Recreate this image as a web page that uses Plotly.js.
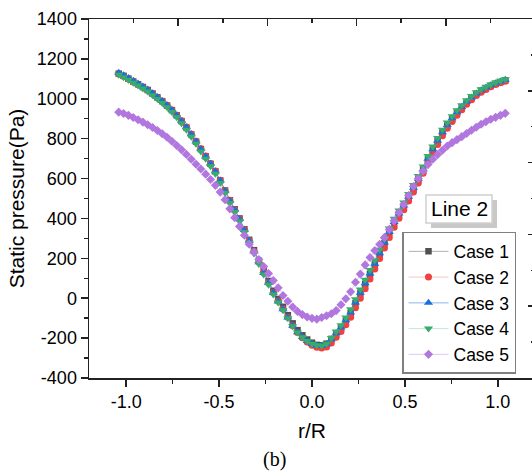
<!DOCTYPE html>
<html><head><meta charset="utf-8">
<script src="https://cdn.plot.ly/plotly-3.0.1.min.js"></script>
<style>html,body{margin:0;padding:0;overflow:hidden;background:#fff;width:532px;height:475px}#chart{width:540px;height:475px}</style>
</head><body><div id="chart"></div>
<script>
const rR = [-1.04,-1.014,-0.988,-0.962,-0.936,-0.91,-0.884,-0.858,-0.832,-0.806,-0.78,-0.754,-0.728,-0.702,-0.676,-0.65,-0.624,-0.598,-0.572,-0.546,-0.52,-0.494,-0.468,-0.442,-0.416,-0.39,-0.364,-0.338,-0.312,-0.286,-0.26,-0.234,-0.208,-0.182,-0.156,-0.13,-0.104,-0.078,-0.052,-0.026,0,0.026,0.052,0.078,0.104,0.13,0.156,0.182,0.208,0.234,0.26,0.286,0.312,0.338,0.364,0.39,0.416,0.442,0.468,0.494,0.52,0.546,0.572,0.598,0.624,0.65,0.676,0.702,0.728,0.754,0.78,0.806,0.832,0.858,0.884,0.91,0.936,0.962,0.988,1.014,1.04];

const case1 = [1126,1115,1101,1087,1073,1059,1044,1026,1007,988,
966,943,917,888,856,821,785,748,711,674,
636,591,540,491,446,400,346,293,241,188,
136,86,37,-4,-43,-85,-126,-160,-186,-207,
-223,
-234,-236,-228,-204,-176,-150,-114,-74,-25,24,
72,121,170,223,276,329,379,422,462,506,
551,596,644,696,744,787,829,866,899,929,
956,982,1004,1024,1040,1053,1065,1075,1084,1092];

const case2 = [1124,1113,1100,1086,1072,1058,1043,1026,1007,988,
967,944,918,890,858,823,787,750,713,676,
638,592,540,491,445,399,344,290,236,182,
129,78,28,-14,-54,-96,-138,-172,-198,-220,
-236,
-246,-250,-245,-224,-196,-167,-133,-95,-48,0,
48,97,146,199,252,305,356,401,443,487,
532,578,626,678,727,771,814,852,886,917,
945,972,995,1016,1033,1047,1060,1071,1080,1088];

const case3 = [1130,1118,1104,1090,1076,1061,1046,1028,1009,989,
967,944,918,889,857,822,786,748,711,674,
636,590,538,489,443,397,342,288,234,180,
127,76,26,-16,-55,-97,-138,-170,-195,-215,
-229,
-238,-239,-231,-206,-176,-147,-111,-71,-22,27,
75,124,173,226,279,332,382,425,465,509,
554,599,647,699,747,790,832,869,902,932,
959,985,1007,1027,1043,1056,1068,1078,1087,1095];

const case4 = [1120,1108,1094,1080,1066,1051,1036,1018,999,979,
957,934,907,877,845,810,774,736,699,662,
624,578,527,478,432,386,332,278,224,171,
119,68,19,-22,-60,-101,-141,-172,-196,-215,
-228,
-236,-238,-228,-200,-167,-135,-97,-55,-5,44,
92,141,190,243,296,349,398,440,480,523,
568,613,661,713,761,803,845,881,913,942,
968,993,1014,1033,1048,1060,1071,1081,1090,1098];

const case5 = [933,926,917,906,895,883,870,856,841,825,
807,787,766,744,721,697,672,648,622,595,
566,532,494,448,404,360,316,271,231,194,
159,124,89,52,14,-15,-44,-66,-82,-94,
-101,
-105,-97,-88,-78,-62,-33,-3,32,80,121,
167,204,239,270,305,345,388,430,470,515,
560,600,638,670,697,720,742,763,780,795,
810,826,842,857,872,885,897,907,917,927];

const seriesNames = ['Case 1','Case 2','Case 3','Case 4','Case 5'];
const seriesValues = [case1, case2, case3, case4, case5];
const xTickVals = [-1, -0.5, 0, 0.5, 1];
const xTickText = ['-1.0', '-0.5', '0.0', '0.5', '1.0'];
const yTickVals = [-400, -200, 0, 200, 400, 600, 800, 1000, 1200, 1400];
const yTickText = ['-400', '-200', '0', '200', '400', '600', '800', '1000', '1200', '1400'];
const legendTitle = 'Line 2';
const panelLabel = '(b)';

const colors = ['#515151','#F14040','#1A6FDF','#37AD6B','#B177DE'];
const lineColors = ['rgba(81,81,81,0.45)','rgba(241,64,64,0.3)','rgba(26,111,223,0.5)','rgba(55,173,107,0.3)','rgba(177,119,222,0.4)'];
const symbols = ['square','circle','triangle-up','triangle-down','diamond'];
const sizes = [6.5,7,8,8,7];

const traces = seriesValues.map((v, i) => ({
  type: 'scatter', mode: 'lines+markers', name: seriesNames[i],
  x: rR, y: v,
  line: {color: lineColors[i], width: 1},
  marker: {symbol: symbols[i], size: sizes[i], color: colors[i], line: {width: 0}}
}));
traces.push({type:'scatter', x:[], y:[], xaxis:'x2', yaxis:'y2', showlegend:false, hoverinfo:'skip'});

const axCol = '#222';
const layout = {
  width: 540, height: 475,
  margin: {l: 89, r: 5, t: 19, b: 97},
  paper_bgcolor: '#fff', plot_bgcolor: '#fff',
  font: {family: 'Liberation Sans, Arial, sans-serif', size: 18, color: '#000'},
  showlegend: true,
  xaxis: {
    range: [-1.2, 1.2], tickmode: 'array', tickvals: xTickVals, ticktext: xTickText,
    ticks: 'outside', ticklen: 7, tickwidth: 1.5, tickcolor: axCol,
    showline: true, linecolor: axCol, linewidth: 1.5, showgrid: false, zeroline: false,
    minor: {dtick: 0.25, tick0: -1, ticks: 'outside', ticklen: 4, tickwidth: 1.5, tickcolor: axCol, showgrid: false},
    tickfont: {size: 18},
    title: {text: 'r/R', font: {size: 21}, standoff: 12}
  },
  yaxis: {
    range: [-400, 1400], tickmode: 'array', tickvals: yTickVals, ticktext: yTickText,
    ticks: 'outside', ticklen: 7, tickwidth: 1.5, tickcolor: axCol,
    showline: true, linecolor: axCol, linewidth: 1.5, showgrid: false, zeroline: false,
    minor: {dtick: 100, tick0: 0, ticks: 'outside', ticklen: 4, tickwidth: 1.5, tickcolor: axCol, showgrid: false},
    tickfont: {size: 18},
    title: {text: 'Static pressure(Pa)', font: {size: 21}, standoff: 6}
  },
  xaxis2: {
    overlaying: 'x', side: 'top', anchor: 'y', range: [0, 5], tick0: 0, dtick: 1,
    ticks: 'inside', ticklen: 7, tickwidth: 1.5, tickcolor: axCol, showticklabels: false,
    showline: true, linecolor: axCol, linewidth: 1.5, showgrid: false, zeroline: false,
    minor: {dtick: 0.5, ticks: 'inside', ticklen: 4, tickwidth: 1.5, tickcolor: axCol, showgrid: false}
  },
  yaxis2: {
    overlaying: 'y', side: 'right', anchor: 'x', range: [0, 5], tick0: 0, dtick: 1,
    ticks: 'inside', ticklen: 7, tickwidth: 1.5, tickcolor: axCol, showticklabels: false,
    showline: true, linecolor: axCol, linewidth: 1.5, showgrid: false, zeroline: false,
    minor: {dtick: 0.5, ticks: 'inside', ticklen: 4, tickwidth: 1.5, tickcolor: axCol, showgrid: false}
  },
  legend: {
    x: 0.7018, y: 0.4067, xanchor: 'left', yanchor: 'top',
    bgcolor: '#fff', bordercolor: '#808080', borderwidth: 1.5,
    font: {size: 17.5}, itemwidth: 40, tracegroupgap: 0
  },
  shapes: [
    {type: 'rect', xref: 'paper', yref: 'paper', x0: 0.7668, x1: 0.9148, y0: 0.4178, y1: 0.4958, fillcolor: '#c8c8c8', line: {width: 0}},
    {type: 'rect', xref: 'paper', yref: 'paper', x0: 0.7556, x1: 0.9036, y0: 0.4318, y1: 0.5097, fillcolor: '#fff', line: {color: '#d0d0d0', width: 1.5}}
  ],
  annotations: [
    {xref: 'paper', yref: 'paper', x: 0.8296, y: 0.4708, xanchor: 'center', yanchor: 'middle', showarrow: false, text: legendTitle, font: {size: 21, color: '#000'}},
    {xref: 'paper', yref: 'paper', x: 0.4148, y: -0.228, xanchor: 'center', yanchor: 'middle', showarrow: false, text: panelLabel, font: {family: 'Liberation Serif, Times New Roman, serif', size: 20, color: '#000'}}
  ]
};

Plotly.newPlot('chart', traces, layout, {displayModeBar: false, staticPlot: true});
</script>
</body></html>
